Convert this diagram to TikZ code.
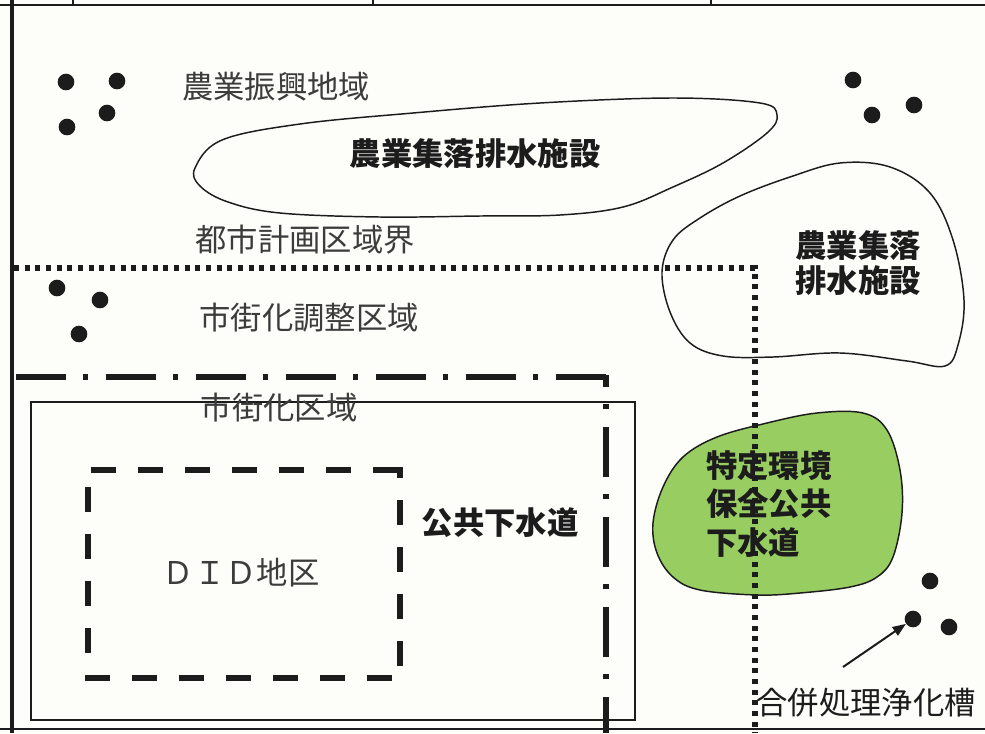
\documentclass[tikz,border=0pt]{standalone}
\usepackage{fontspec}
\newfontfamily\cjk{Noto Sans CJK JP}
\usetikzlibrary{arrows.meta}
\definecolor{bg}{RGB}{253,253,250}
\definecolor{ink}{RGB}{28,28,28}
\definecolor{grn}{RGB}{152,205,98}
\definecolor{minc}{RGB}{60,60,60}
\begin{document}
\begin{tikzpicture}[x=0.75pt,y=-0.75pt,
  minlabel/.style={font=\cjk\fontsize{23.5}{29}\selectfont, text=minc, inner sep=0},
  gothlabel/.style={font=\cjk\bfseries\fontsize{23.5}{26}\selectfont, text=ink, inner sep=0},
  housedot/.style={circle, fill=ink, minimum size=12.5pt, inner sep=0},
  blobline/.style={draw=ink, line width=1.1pt},
  didline/.style={draw=ink, line width=3.8pt, dash pattern=on 18.75pt off 16.5pt},
  ddline/.style={draw=ink, line width=4.5pt, dash pattern=on 37.5pt off 12.75pt on 3.75pt off 13.5pt},
  dotline/.style={draw=ink, line width=3.8pt, dash pattern=on 3.8pt off 4.2pt}]
\fill[bg] (0,0) rectangle (985,733);
\useasboundingbox (0,0) rectangle (985,733);

% frame
\draw[ink, line width=1.4pt] (0,5) -- (985,5);
\draw[ink, line width=1.1pt] (73,0) -- (73,5) (373,0) -- (373,5) (711,0) -- (711,5);
\draw[ink, line width=3.5pt] (12,0) -- (12,733);
\draw[ink, line width=1.4pt] (0,729) -- (985,729);

% green blob
\filldraw[fill=grn, blobline] plot[smooth cycle, tension=0.6] coordinates {
 (653,523) (663,487) (683,457) (717,437) (767,423) (817,413) (863,413) (887,430)
 (900,470) (902,513) (893,557) (877,577) (850,587) (800,593) (757,595) (700,590)
 (673,577) (657,553)};

% blob 1
\draw[blobline] plot[smooth cycle, tension=0.6] coordinates {
 (195,168) (222,140) (300,124) (413,113) (540,103) (673,98) (760,103) (777,115)
 (767,133) (723,163) (673,187) (623,207) (560,215) (480,216) (380,217) (280,213)
 (228,202) (200,186)};

% blob 2
\draw[blobline] plot[smooth cycle, tension=0.6] coordinates {
 (662,272) (673,240) (700,218) (740,196) (790,177) (840,163) (890,167) (930,193)
 (953,240) (964,300) (958,345) (945,366) (907,361) (840,353) (773,357) (723,356)
 (690,343) (670,312)};

% urbanisation area rectangle
\draw[ink, line width=1.1pt] (31,402) rectangle (635,720);

% DID dashed rectangle
\draw[didline] (91,470) -- (376,470);
\draw[ink, line width=3.8pt, line join=miter] (373,470) -- (400,470) -- (400,478);
\draw[didline] (88,487) -- (88,678);
\draw[didline] (400,500) -- (400,678);
\draw[didline] (85,678) -- (400,678);

% dash-dot boundary
\draw[ddline] (16,377) -- (608,377);
\draw[ddline, dash phase=28.5pt] (606,375) -- (606,733);

% labels
\node[minlabel] (l1) at (276,87) {農業振興地域};
\node[gothlabel] (l2) at (475,154) {農業集落排水施設};
\node[minlabel] (l3) at (305,240) {都市計画区域界};
\node[minlabel] (l4) at (309,318) {市街化調整区域};
\node[minlabel] (l5) at (279,408) {市街化区域};
\node[gothlabel, align=left] (l6) at (858,263) {農業集落\\排水施設};
\node[minlabel] (l7) at (241,573) {ＤＩＤ地区};
\node[gothlabel] (l8) at (500,523) {公共下水道};
\node[gothlabel, align=left, anchor=west, font=\cjk\bfseries\fontsize{23.5}{29}\selectfont] (l9) at (706,504) {特定環境\\保全公共\\下水道};
\node[font=\cjk\fontsize{23.5}{28}\selectfont, text=ink, inner sep=0] (l10) at (866,703) {合併処理浄化槽};

% city planning boundary (dotted)
\draw[dotline] (14,268) -- (755,268) -- (755,733);

% houses
\node[housedot] (d1) at (66,82) {};
\node[housedot] (d2) at (117,81) {};
\node[housedot] (d3) at (107,113) {};
\node[housedot] (d4) at (67,127) {};
\node[housedot] (d5) at (853,80) {};
\node[housedot] (d6) at (914,105) {};
\node[housedot] (d7) at (872,115) {};
\node[housedot] (d8) at (57,288) {};
\node[housedot] (d9) at (100,300) {};
\node[housedot] (d10) at (79,334) {};
\node[housedot] (d11) at (930,581) {};
\node[housedot] (d12) at (913,619) {};
\node[housedot] (d13) at (949,627) {};

% arrow
\coordinate (arrtail) at (843,667);
\draw[ink, line width=1.5pt, -{Triangle[length=10pt,width=7.5pt]}] (arrtail) -- (d12);
\end{tikzpicture}
\end{document}
